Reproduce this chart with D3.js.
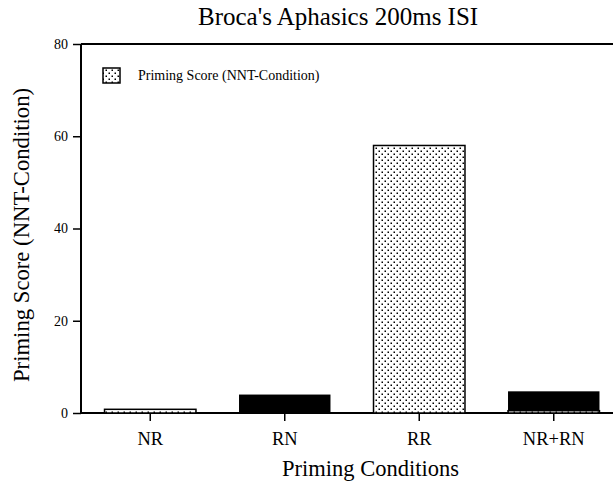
<!DOCTYPE html>
<html>
<head>
<meta charset="utf-8">
<script src="https://cdn.jsdelivr.net/npm/d3@7"></script>
<style>
  body { margin: 0; background: #fff; }
  text { font-family: "Liberation Serif", "Times New Roman", serif; fill: #000; }
</style>
</head>
<body>
<div id="myChart"></div>
<script>
let width = 613;
let height = 488;

// data
const conditions = ["NR", "RN", "RR", "NR+RN"];
const primingScore = [0.8, 0, 58, 0.5];    // dotted bars
const blackPart = [0, 4, 0, 4.7];          // solid black bars
const yTicks = [0, 20, 40, 60, 80];

let svg = d3.select("#myChart").append("svg")
  .attr("width", width)
  .attr("height", height);

// dot pattern
let pat = svg.append("defs").append("pattern")
  .attr("id", "dots")
  .attr("patternUnits", "userSpaceOnUse")
  .attr("width", 6).attr("height", 6);
pat.append("rect").attr("width", 6).attr("height", 6).attr("fill", "#fff");
pat.append("rect").attr("x", 0.5).attr("y", 0.5).attr("width", 1.5).attr("height", 1.5).attr("fill", "#000");
pat.append("rect").attr("x", 3.5).attr("y", 3.5).attr("width", 1.5).attr("height", 1.5).attr("fill", "#000");

let plotLeft = 81, plotTop = 44, plotBottom = 413;

var x = d3.scaleBand()
  .domain(conditions)
  .range([83, 621])
  .paddingInner(0.32)
  .paddingOuter(0.16);

var y = d3.scaleLinear()
  .domain([0, 80])
  .range([plotBottom, plotTop]);

// frame
svg.append("path")
  .attr("d", `M${plotLeft},${plotTop}H${width + 5}M${plotLeft},${plotTop}V${plotBottom}H${width + 5}`)
  .attr("fill", "none").attr("stroke", "#000").attr("stroke-width", 2);

// y axis
let yAxis = svg.append("g")
  .attr("transform", `translate(${plotLeft},0)`)
  .call(d3.axisLeft(y).tickValues(yTicks).tickSize(8).tickPadding(5));
yAxis.select(".domain").remove();
yAxis.selectAll("line").attr("stroke-width", 1.5);
yAxis.selectAll("text").style("font-size", "14px").style("font-family", "Liberation Serif");

// x axis
let xAxis = svg.append("g")
  .attr("transform", `translate(0,${plotBottom})`)
  .call(d3.axisBottom(x).tickSize(8).tickPadding(11));
xAxis.select(".domain").remove();
xAxis.selectAll("line").attr("stroke-width", 1.5);
xAxis.selectAll("text").style("font-size", "18.5px").style("font-family", "Liberation Serif");

// black bars
svg.append("g").selectAll("rect")
  .data(conditions.filter((d, i) => blackPart[i] > 0))
  .enter().append("rect")
  .attr("x", d => x(d))
  .attr("width", x.bandwidth())
  .attr("y", d => y(blackPart[conditions.indexOf(d)]))
  .attr("height", d => plotBottom - y(blackPart[conditions.indexOf(d)]))
  .attr("fill", "#000");

// dotted bars
svg.append("g").selectAll("rect")
  .data(conditions.filter((d, i) => primingScore[i] > 0))
  .enter().append("rect")
  .attr("x", d => x(d))
  .attr("width", x.bandwidth())
  .attr("y", d => y(primingScore[conditions.indexOf(d)]))
  .attr("height", d => plotBottom - y(primingScore[conditions.indexOf(d)]))
  .attr("fill", "url(#dots)")
  .attr("stroke", "#000")
  .attr("stroke-width", 1.5);

// legend
svg.append("rect")
  .attr("x", 103).attr("y", 68).attr("width", 17).attr("height", 15)
  .attr("fill", "url(#dots)").attr("stroke", "#000").attr("stroke-width", 1.5);
svg.append("text")
  .attr("x", 138).attr("y", 80)
  .style("font-size", "14px")
  .text("Priming Score (NNT-Condition)");

// titles
svg.append("text")
  .attr("x", 198).attr("y", 25)
  .style("font-size", "25px")
  .text("Broca's Aphasics 200ms ISI");

svg.append("text")
  .attr("x", 282).attr("y", 476)
  .style("font-size", "22.5px")
  .text("Priming Conditions");

svg.append("text")
  .attr("transform", "translate(29,382) rotate(-90)")
  .style("font-size", "22.7px")
  .text("Priming Score (NNT-Condition)");
</script>
</body>
</html>
